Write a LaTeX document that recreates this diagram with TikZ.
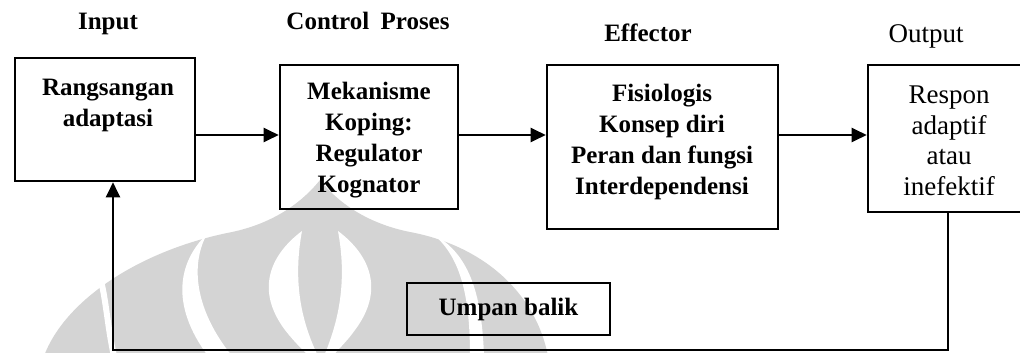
\documentclass[tikz,border=0pt]{standalone}
\usepackage{fontspec}
\setmainfont{Liberation Serif}
\usetikzlibrary{arrows.meta}

\begin{document}
\begin{tikzpicture}[x=1pt,y=-1pt,
  wm/.style={fill=black!17},
  wmgap/.style={fill=white},
  blk/.style={draw=black, line width=2.6pt, rectangle, inner sep=0pt},
  lbl/.style={font=\bfseries\fontsize{25}{31}\selectfont, align=center, inner sep=0pt},
  lblreg/.style={font=\fontsize{27}{30.5}\selectfont, align=center, inner sep=0pt},
  ttl/.style={font=\bfseries\fontsize{25}{30}\selectfont, anchor=base, inner sep=0pt},
  ttlreg/.style={font=\fontsize{27}{30}\selectfont, anchor=base, inner sep=0pt},
  conn/.style={line width=2.3pt, line join=miter, -{Triangle[length=15pt,width=14pt]}}
]
\useasboundingbox (0,0) rectangle (1020,353);
\clip (0,0) rectangle (1020,353);

% faint emblem in the background
\fill[wm] (44,356) .. controls (65,300) and (140,250) .. (232,232)
  .. controls (270,224) and (300,205) .. (320,180)
  .. controls (340,205) and (370,224) .. (410,232)
  .. controls (480,245) and (535,290) .. (548,356) -- cycle;
\draw[white, line width=6pt] (101,281) .. controls (106,300) and (108,330) .. (114,356);
\fill[wmgap] (207,234) .. controls (178,262) and (170,305) .. (208,356)
  -- (232,356) .. controls (195,310) and (190,265) .. (207,234) -- cycle;
\fill[wmgap] (302,231) .. controls (270,255) and (255,290) .. (285,330)
  .. controls (296,344) and (303,350) .. (309,356)
  -- (318,356) .. controls (303,325) and (292,285) .. (302,231) -- cycle;
\fill[wmgap] (338,231) .. controls (370,255) and (385,290) .. (355,330)
  .. controls (345,344) and (337,350) .. (333,356)
  -- (324,356) .. controls (337,325) and (348,285) .. (338,231) -- cycle;
\fill[wmgap] (433,234) .. controls (462,258) and (470,300) .. (470,356)
  -- (484,356) .. controls (482,300) and (472,255) .. (433,234) -- cycle;

% headings
\node[ttl] (hin) at (108,30) {Input};
\node[ttl] (hctl) at (368,30) {Control\hspace{0.45em}Proses};
\node[ttl] (heff) at (648,42) {Effector};
\node[ttlreg] (hout) at (926,43) {Output};

% blocks
\node[blk, minimum width=180pt, minimum height=123pt] (inbox) at (105,119.5) {};
\node[blk, minimum width=178pt, minimum height=144pt] (ctlbox) at (369,137) {};
\node[blk, minimum width=231pt, minimum height=164pt] (effbox) at (662.5,147) {};
\node[blk, minimum width=160pt, minimum height=147pt] (outbox) at (948,138.5) {};
\node[blk, minimum width=203pt, minimum height=52pt,
      font=\bfseries\fontsize{25}{30}\selectfont] (fbbox) at (508.5,309) {Umpan balik};

\node[lbl] (intxt) at (108,105) {Rangsangan\\adaptasi};
\node[lbl] (ctltxt) at (369,140) {Mekanisme\\Koping:\\Regulator\\Kognator};
\node[lbl] (efftxt) at (662,142) {Fisiologis\\Konsep diri\\Peran dan fungsi\\Interdependensi};
\node[lblreg] (outtxt) at (949,141) {Respon\\adaptif\\atau\\inefektif};

% forward path
\coordinate (row) at (0,135);
\draw[conn] (inbox.east |- row) -- (ctlbox.west |- row);
\draw[conn] (ctlbox.east |- row) -- (effbox.west |- row);
\draw[conn] (effbox.east |- row) -- (outbox.west |- row);

% feedback path
\coordinate (fbturn) at (113,350);
\draw[conn] (outbox.south) |- (fbturn) -- (fbturn |- inbox.south);
\end{tikzpicture}
\end{document}
